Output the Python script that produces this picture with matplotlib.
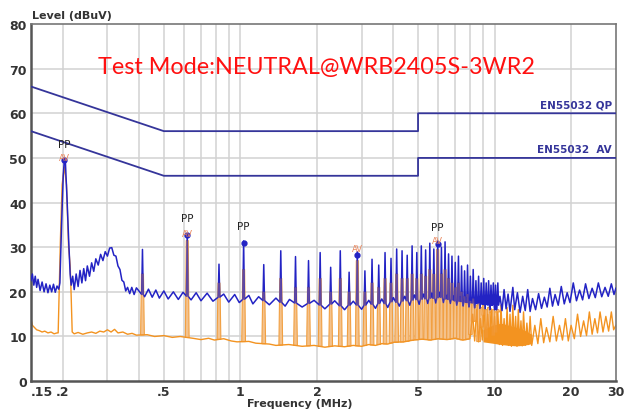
"""
Conducted emission scan, neutral line, with EN55032 QP / AV limit lines.
"""

import matplotlib.pyplot as plt
import numpy as np

# =============================================================================
# DATA
# =============================================================================

# peak detector trace (blue), broadband part
blue_f = [0.150, 0.152, 0.154, 0.156, 0.158, 0.160, 0.163, 0.166, 0.169, 0.172,
          0.175, 0.178, 0.181, 0.184, 0.187, 0.190, 0.193,
          0.195, 0.198, 0.201, 0.203, 0.205, 0.208, 0.211, 0.214, 0.216,
          0.219, 0.222, 0.226, 0.230, 0.234, 0.238, 0.242, 0.246, 0.250, 0.255,
          0.260, 0.265, 0.270, 0.276, 0.282, 0.288, 0.294, 0.300, 0.306, 0.312,
          0.318, 0.324, 0.330, 0.336, 0.342, 0.348, 0.354, 0.360, 0.367, 0.374,
          0.382, 0.390, 0.420, 0.435, 0.450, 0.465, 0.480, 0.500, 0.520, 0.545,
          0.570, 0.595, 0.640, 0.670, 0.700, 0.740, 0.780, 0.860, 0.900, 0.950,
          0.990, 1.080, 1.120, 1.180, 1.300, 1.380, 1.500, 1.560, 1.750, 1.950,
          2.150, 2.350, 2.570, 2.780, 3.000, 3.200, 3.400, 3.600, 3.800, 4.000,
          4.220, 4.430, 4.640, 4.840, 5.050, 5.250, 5.460, 5.660, 5.870, 6.080,
          6.290, 6.490, 6.700, 6.900, 7.100, 7.320, 7.520, 7.730, 7.930, 8.140,
          8.350, 8.550, 8.760, 8.960, 9.170, 9.370, 9.580, 9.790, 10.00,
          10.2, 10.5, 10.7, 10.9, 11.1, 11.3, 11.5, 11.8, 12.0, 12.3, 12.6, 12.9,
          13.2, 13.5, 13.8, 14.1, 14.5, 14.9, 15.3, 15.7, 16.1, 16.5, 16.9, 17.3,
          17.8, 18.3, 18.8, 19.3, 19.8, 20.4, 21.0, 21.6, 22.2, 22.8, 23.5, 24.2,
          24.9, 25.6, 26.4, 27.2, 28.0, 28.8, 29.5, 30.0]
blue_db = [22.5, 24.0, 21.5, 23.5, 21.0, 22.8, 20.3, 22.2, 20.0, 21.8,
           19.8, 21.5, 20.0, 21.7, 19.9, 21.3, 20.6,
           22.0, 35.0, 46.0, 49.5, 49.0, 41.0, 32.0, 24.0, 21.5,
           23.5, 20.5, 24.0, 21.2, 24.8, 22.0, 25.2, 22.5, 25.8, 23.5,
           26.5, 24.6, 27.4, 26.0, 28.4, 27.0, 29.0, 28.0, 29.8, 29.9,
           28.2, 28.0, 25.8, 25.0, 22.6, 22.2, 20.2, 21.0, 19.6, 21.0,
           19.4, 20.9, 18.9, 20.6, 18.8, 20.4, 18.6, 20.2, 18.4, 20.0,
           18.3, 19.9, 18.2, 19.8, 18.0, 19.7, 17.9, 19.5, 17.7, 19.4,
           17.6, 19.2, 17.3, 18.9, 17.1, 18.6, 16.8, 18.3, 16.6, 18.1,
           16.2, 18.0, 16.0, 17.9, 16.1, 18.1, 16.3, 18.4, 16.5, 18.7,
           16.8, 19.0, 17.0, 19.3, 17.2, 19.5, 17.4, 19.7, 17.5, 19.9,
           17.6, 19.2, 17.4, 19.0, 17.0, 18.8, 16.8, 18.6, 16.6, 18.5,
           16.4, 18.4, 16.3, 18.2, 16.2, 18.1, 16.0, 18.0, 16.0,
           16.0, 19.0, 15.8, 20.5, 16.2, 19.5, 15.6, 21.0, 16.0, 19.8, 15.4, 19.0,
           15.8, 20.5, 15.6, 18.5, 16.0, 19.6, 16.3, 18.8, 16.6, 20.8, 16.8, 19.4,
           17.0, 21.2, 17.3, 19.8, 17.6, 22.0, 18.0, 20.4, 18.2, 21.8, 18.5, 20.8,
           18.7, 22.0, 18.9, 21.0, 19.0, 21.8, 19.4, 20.8]

# average detector trace (orange), broadband part
orange_f = [0.150, 0.152, 0.155, 0.158, 0.162, 0.166, 0.170, 0.175, 0.180, 0.185,
            0.190, 0.192, 0.194, 0.196, 0.199, 0.203, 0.207, 0.211, 0.214, 0.216,
            0.218, 0.222, 0.230, 0.240, 0.250, 0.260, 0.270, 0.280, 0.290, 0.300,
            0.310, 0.320, 0.330, 0.345, 0.360, 0.375, 0.390, 0.430, 0.460, 0.500,
            0.540, 0.580, 0.650, 0.700, 0.750, 0.790, 0.860, 0.920, 0.970, 1.080,
            1.150, 1.300, 1.380, 1.550, 1.750, 1.950, 2.150, 2.350, 2.570, 2.780,
            3.000, 3.200, 3.400, 3.600, 3.800, 4.000, 4.400, 4.800, 5.200, 5.600,
            6.000, 6.500, 7.000, 7.500, 8.000,
            8.20, 8.35, 8.50, 8.65, 8.80, 8.95, 9.10, 9.25, 9.40, 9.55, 9.70, 9.85,
            10.0, 10.15, 10.3, 10.45, 10.6, 10.75, 10.9, 11.05, 11.2, 11.35, 11.5,
            11.65, 11.8, 11.95, 12.1, 12.25, 12.4, 12.55, 12.7, 12.85, 13.0, 13.2,
            13.4, 13.6, 13.8, 14.0, 14.4, 14.8, 15.2, 15.6, 16.0, 16.5,
            17.0, 17.5, 18.0, 18.5, 19.0, 19.5, 20.0, 20.6, 21.2, 21.8, 22.4, 23.0,
            23.6, 24.2, 24.8, 25.4, 26.0, 26.7, 27.4, 28.1, 28.8, 29.4, 30.0]
orange_db = [14.0, 12.5, 12.0, 11.5, 11.3, 11.0, 11.2, 10.8, 11.0, 10.6,
             10.8, 10.8, 22.0, 32.0, 44.0, 48.0, 44.0, 30.0, 26.0, 19.0,
             11.0, 10.6, 10.9, 10.5, 10.8, 11.0, 10.7, 11.2, 11.0, 11.5,
             11.0, 11.6, 10.8, 11.0, 10.5, 10.7, 10.3, 10.4, 10.0, 10.2,
             9.8, 10.0, 9.6, 9.3, 9.6, 9.2, 9.5, 9.0, 8.8, 8.9,
             8.5, 8.3, 8.0, 8.2, 7.8, 8.0, 7.6, 7.9, 7.7, 8.0,
             7.8, 8.2, 8.0, 8.4, 8.3, 8.7, 8.8, 9.2, 9.4, 9.2,
             9.5, 9.3, 9.6, 9.2, 9.5,
             15.0, 9.0, 16.0, 8.8, 14.0, 9.2, 16.5, 8.9, 15.0, 9.0, 16.2, 8.7,
             14.5, 8.5, 15.5, 8.2, 17.0, 8.0, 14.0, 8.3, 16.5, 8.0, 15.0,
             7.8, 17.0, 8.0, 14.5, 7.8, 16.0, 8.0, 13.5, 7.9, 15.5, 8.0,
             13.0, 8.2, 14.5, 8.0, 12.5, 8.4, 14.0, 8.6, 12.0, 8.8,
             14.5, 9.0, 12.5, 9.2, 14.0, 9.0, 12.5, 9.5, 15.0, 10.0, 13.5, 10.2,
             15.5, 10.5, 14.0, 10.8, 15.5, 11.0, 14.5, 11.2, 15.5, 11.5, 12.5]

# dense average band between 9 and 14 MHz
band_f = [9.0, 9.8, 10.6, 11.4, 12.2, 13.0, 14.0]
band_lo = [8.8, 8.5, 8.2, 8.0, 7.9, 8.0, 8.4]
band_hi = [11.5, 12.5, 13.0, 12.5, 12.0, 11.5, 10.5]

# harmonics of the switching frequency
harm_f = [0.412, 0.618, 0.824, 1.030, 1.236, 1.442, 1.648, 1.854, 2.060, 2.266,
          2.472, 2.678, 2.884, 3.090, 3.296, 3.502, 3.708, 3.914, 4.120, 4.326,
          4.532, 4.738, 4.944, 5.150, 5.356, 5.562, 5.768, 5.974, 6.180, 6.386,
          6.592, 6.798, 7.004, 7.210, 7.416, 7.622, 7.828, 8.034, 8.240, 8.446,
          8.652, 8.858, 9.064, 9.270, 9.476, 9.682, 9.888, 10.09, 10.30]
harm_blue = [29.5, 33.0, 26.2, 31.4, 26.1, 29.2, 27.9, 27.0, 28.8, 25.5,
             29.2, 24.4, 29.0, 24.7, 27.3, 26.0, 28.8, 27.5, 29.6, 29.2,
             28.2, 30.3, 28.8, 30.3, 29.4, 30.9, 29.6, 31.4, 30.0, 31.2,
             28.5, 28.0, 26.6, 28.0, 25.8, 24.7, 26.0, 23.5, 25.0, 22.5,
             23.5, 22.0, 23.0, 22.0, 22.5, 21.5, 22.0, 21.5, 22.0]
harm_orange = [24.0, 31.5, 22.0, 25.0, 20.0, 23.0, 21.0, 21.0, 23.0, 20.0,
               23.0, 20.0, 27.0, 20.0, 22.0, 21.0, 23.0, 22.0, 24.0, 23.0,
               23.0, 24.0, 23.0, 24.0, 23.5, 25.0, 24.0, 29.5, 24.0, 25.0,
               23.0, 22.0, 21.0, 22.0, 20.0, 19.0, 19.5, 18.0, 18.5, 17.0,
               17.5, 16.5, 17.0, 16.0, 16.5, 15.5, 16.0, 15.5, 16.0]

# limit lines
qp_f = [0.15, 0.5, 5.0, 5.0, 30.0]
qp_db = [66, 56, 56, 60, 60]
av_f = [0.15, 0.5, 5.0, 5.0, 30.0]
av_db = [56, 46, 46, 50, 50]

# markers
pp_f = [0.203, 0.618, 1.030, 5.974]
pp_db = [49.5, 32.8, 31.0, 30.8]
avm_f = [0.203, 0.618, 2.884, 5.974]
avm_db = [48.5, 31.5, 28.2, 30.0]

x_ticks = [0.15, 0.2, 0.5, 1, 2, 5, 10, 20, 30]
x_labels = [".15", ".2", ".5", "1", "2", "5", "10", "20", "30"]
x_grid = [0.2, 0.3, 0.4, 0.5, 0.6, 0.7, 0.8, 0.9, 1, 2, 3, 4, 5, 6, 7, 8, 9,
          10, 20]

# =============================================================================
# HELPERS
# =============================================================================


def with_spikes(base_f, base_db, sf, sp, w):
    """Insert narrow triangular spikes into a broadband trace."""
    lf = np.log(base_f)
    f = list(base_f)
    d = list(base_db)
    for fi, pk in zip(sf, sp):
        foot = np.interp(np.log(fi), lf, base_db)
        f += [fi / w, fi, fi * w]
        d += [foot, pk, foot]
    order = np.argsort(f)
    return np.array(f)[order], np.array(d)[order]


# =============================================================================
# PLOT
# =============================================================================

fig = plt.figure(figsize=(6.31, 4.10), dpi=100)
ax = fig.add_axes([0.049, 0.068, 0.927, 0.871])
ax.set_xscale("log")
ax.set_xlim(0.15, 30)
ax.set_ylim(0, 80)

for g in x_grid:
    ax.axvline(g, color="#d2d2d2", lw=1.1, zorder=0)
for g in range(10, 80, 10):
    ax.axhline(g, color="#d2d2d2", lw=1.1, zorder=0)

# average detector: pale blocks at each harmonic
lf = np.log(orange_f)
blocks = []
for fi, pk in zip(harm_f, harm_orange):
    foot = np.interp(np.log(fi), lf, orange_db)
    bx = [fi / 1.017, fi / 1.009, fi * 1.009, fi * 1.017]
    by = [foot, pk, pk, foot]
    ax.fill(bx, by, fc="#f7d2a6", lw=0.8, ec="#f2a040", zorder=1)
    blocks.append((bx, by))
ax.fill_between(band_f, band_lo, band_hi, color="#f39320", lw=0, zorder=1)
ax.plot(orange_f, orange_db, color="#f39320", lw=1.0, zorder=2)

bf, bd = with_spikes(blue_f, blue_db, harm_f, harm_blue, 1.007)
ax.plot(bf, bd, color="#2323c4", lw=1.1, zorder=3)

# average blocks show through the peak trace as a purple tint
for bx, by in blocks:
    ax.fill(bx, by, fc="#f0a050", alpha=0.3, lw=0, zorder=3.5)

ax.plot(qp_f, qp_db, color="#35359a", lw=1.3, zorder=4)
ax.plot(av_f, av_db, color="#35359a", lw=1.3, zorder=4)
ax.text(29, 60.9, "EN55032 QP", ha="right", va="bottom", fontsize=7.5,
        fontweight="bold", color="#35359a")
ax.text(29, 50.9, "EN55032  AV", ha="right", va="bottom", fontsize=7.5,
        fontweight="bold", color="#35359a")

ax.plot(pp_f, pp_db, "o", color="#2323c4", ms=3.5, zorder=5)
ax.plot(avm_f[2:3], avm_db[2:3], "o", color="#2323c4", ms=3.5, zorder=5)
for fi, lv in zip(avm_f, avm_db):
    ax.text(fi, lv + 0.6, "AV", ha="center", va="bottom", fontsize=6,
            color="#e8845a", zorder=6)
for fi, lv in zip(pp_f, pp_db):
    ax.text(fi, lv + 2.6, "PP", ha="center", va="bottom", fontsize=7.5,
            color="#222222", zorder=6)

ax.text(2.0, 70.5, "Test Mode:NEUTRAL@WRB2405S-3WR2", ha="center",
        va="center", fontsize=16.8, color="#ff1010", family="Lato")

ax.set_xticks(x_ticks)
ax.set_xticklabels(x_labels)
ax.xaxis.set_minor_locator(plt.NullLocator())
ax.set_yticks(range(0, 81, 10))
ax.tick_params(length=0, labelsize=9, colors="#333333", pad=3)
for lab in ax.get_xticklabels() + ax.get_yticklabels():
    lab.set_fontweight("bold")
ax.get_xticklabels()[0].set_horizontalalignment("left")

for side in ["top", "right"]:
    ax.spines[side].set_color("#777777")
    ax.spines[side].set_linewidth(1.2)
for side in ["left", "bottom"]:
    ax.spines[side].set_color("#555555")
    ax.spines[side].set_linewidth(1.8)

fig.text(0.05, 0.962, "Level (dBuV)", ha="left", va="center", fontsize=8,
         fontweight="bold", color="#333333")
fig.text(0.475, 0.028, "Frequency (MHz)", ha="center", va="top", fontsize=8,
         fontweight="bold", color="#333333")

fig.savefig("out.png", dpi=100)
